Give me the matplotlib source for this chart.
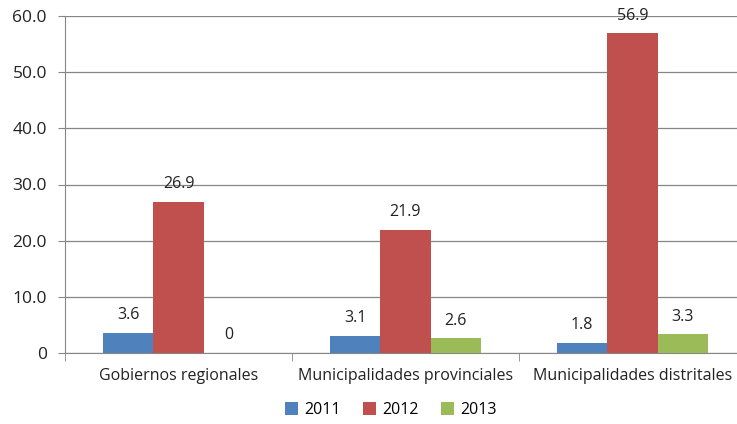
import matplotlib.pyplot as plt
import numpy as np

categorias = ['Gobiernos regionales', 'Municipalidades provinciales', 'Municipalidades distritales']
anios = ['2011', '2012', '2013']
v2011 = [3.6, 3.1, 1.8]
v2012 = [26.9, 21.9, 56.9]
v2013 = [0, 2.6, 3.3]
etiquetas_y = ['0', '10.0', '20.0', '30.0', '40.0', '50.0', '60.0']

colores = ['#4F81BD', '#C0504D', '#9BBB59']
plt.rcParams['font.family'] = ['Open Sans', 'DejaVu Sans']

fig = plt.figure(figsize=(7.37, 4.24), dpi=100)
ax = fig.add_axes([65 / 737, 71 / 424, 681 / 737, 337 / 424])

x = np.arange(len(categorias))
w = 0.222
series = [v2011, v2012, v2013]
for i, (vals, col, lab) in enumerate(zip(series, colores, anios)):
    pos = x + (i - 1) * w
    ax.bar(pos, vals, w, color=col, label=lab, zorder=3)
    for p, v in zip(pos, vals):
        txt = '0' if v == 0 else '%.1f' % v
        ax.annotate(txt, (p, v), xytext=(0, 7), textcoords='offset points',
                    ha='center', va='bottom', fontsize=11.5, color='#222222')

ax.set_xlim(-0.5, 2.5)
ax.set_ylim(0, 60)
ax.set_yticks(np.arange(0, 61, 10))
ax.set_yticklabels(etiquetas_y)
ax.grid(axis='y', color='#868686', linewidth=0.9, zorder=0)
ax.set_xticks(x)
ax.set_xticklabels(categorias)
ax.set_xticks([-0.5, 0.5, 1.5, 2.5], minor=True)
ax.tick_params(axis='x', which='major', length=0, pad=11, labelsize=11.5, colors='#222222')
ax.tick_params(axis='x', which='minor', length=6, color='#868686')
ax.tick_params(axis='y', length=5, color='#868686', labelsize=12.5, labelcolor='#222222', pad=8)
for s in ['top', 'right']:
    ax.spines[s].set_visible(False)
ax.spines['left'].set_color('#868686')
ax.spines['bottom'].set_color('#868686')

fig.legend(loc='center', bbox_to_anchor=(0.53, 14 / 424), ncol=3, frameon=False,
           fontsize=11.5, handlelength=0.8, handleheight=0.8, handletextpad=0.4,
           columnspacing=1.4)

fig.savefig('out.png', dpi=100)
